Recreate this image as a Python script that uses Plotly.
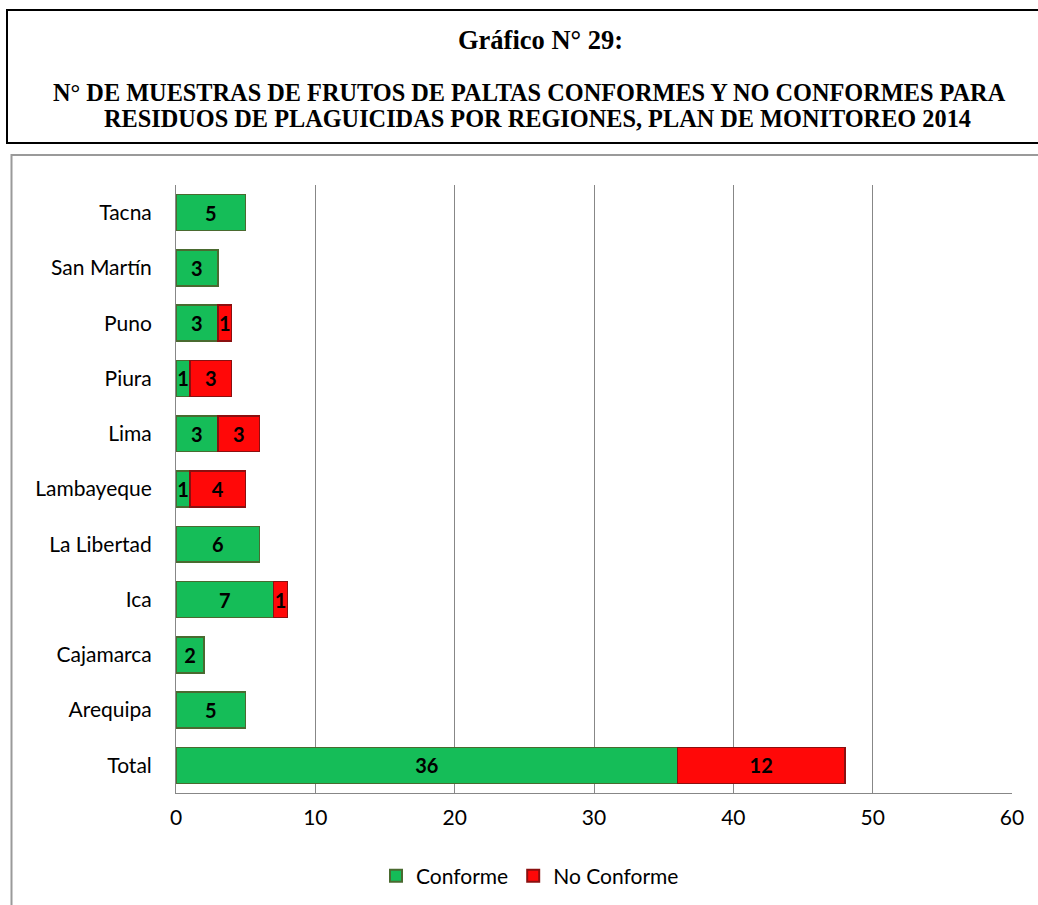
import plotly.graph_objects as go

# Regions listed bottom-to-top (Plotly draws the first category at the bottom)
regiones = ["Total", "Arequipa", "Cajamarca", "Ica", "La Libertad", "Lambayeque",
            "Lima", "Piura", "Puno", "San Martín", "Tacna"]
conforme = [36, 5, 2, 7, 6, 1, 3, 1, 3, 3, 5]
no_conforme = [12, None, None, 1, None, 4, 3, 3, 1, None, None]
x_ticks = [0, 10, 20, 30, 40, 50, 60]

titulo = "Gráfico N° 29:"
subtitulo_1 = "N° DE MUESTRAS DE FRUTOS DE PALTAS CONFORMES Y NO CONFORMES PARA"
subtitulo_2 = "RESIDUOS DE PLAGUICIDAS POR REGIONES, PLAN DE MONITOREO 2014"

W, H = 1038, 905
label_font = "Lato, Calibri, sans-serif"
serif_font = "Liberation Serif, Times New Roman, serif"

fig = go.Figure()
fig.add_trace(go.Bar(
    y=regiones, x=conforme, name="Conforme", orientation="h",
    marker=dict(color="#15bd58", line=dict(color="#4a6a30", width=1.5)),
    text=conforme, textposition="inside", insidetextanchor="middle",
    constraintext="none",
    textfont=dict(family=label_font, size=20, color="black", weight="bold"),
))
fig.add_trace(go.Bar(
    y=regiones, x=no_conforme, name="No Conforme", orientation="h",
    marker=dict(color="#ff0808", line=dict(color="#8a1010", width=1.5)),
    text=no_conforme, textposition="inside", insidetextanchor="middle",
    constraintext="none",
    textfont=dict(family=label_font, size=20, color="black", weight="bold"),
))


def px_x(v):
    return v / W


def px_y(v):
    return 1 - v / H


def title_line(text, x, y, size):
    return dict(text="<b>" + text + "</b>", xref="paper", yref="paper",
                x=px_x(x), y=px_y(y), xanchor="center", yanchor="middle",
                showarrow=False, font=dict(family=serif_font, size=size, color="black"))


fig.update_layout(
    width=W, height=H,
    margin=dict(l=0, r=0, t=0, b=0, autoexpand=False),
    paper_bgcolor="white", plot_bgcolor="white",
    barmode="stack", bargap=0.35,
    font=dict(family=label_font, size=21, color="black"),
    xaxis=dict(
        domain=[px_x(176), px_x(1012)],
        range=[0, 60], tickvals=x_ticks, automargin=False,
        showgrid=True, gridcolor="#878787", gridwidth=1,
        showline=True, linecolor="#878787", linewidth=1,
        zeroline=False, ticks="", ticklen=0, ticklabelstandoff=6,
        tickfont=dict(size=21), fixedrange=True,
    ),
    yaxis=dict(
        domain=[px_y(793), px_y(185)], automargin=False,
        categoryorder="array", categoryarray=regiones,
        showline=True, linecolor="#878787", linewidth=1,
        showgrid=False, ticks="", ticklabelstandoff=19,
        tickfont=dict(size=21),
    ),
    legend=dict(
        orientation="h", x=px_x(530), xanchor="center",
        y=px_y(876), yanchor="middle",
        font=dict(size=21), itemsizing="constant",
        traceorder="normal", itemwidth=30,
    ),
    shapes=[
        dict(type="rect", xref="paper", yref="paper",
             x0=px_x(7), x1=px_x(1048), y0=px_y(143), y1=px_y(10),
             line=dict(color="black", width=2)),
        dict(type="rect", xref="paper", yref="paper",
             x0=px_x(11.5), x1=px_x(1048), y0=px_y(915), y1=px_y(155),
             line=dict(color="#9a9a9a", width=2)),
    ],
    annotations=[
        title_line(titulo, 540, 40, 26.5),
        title_line(subtitulo_1, 529, 92, 24.3),
        title_line(subtitulo_2, 538, 118, 24.3),
    ],
)

fig.write_html("out.html")
